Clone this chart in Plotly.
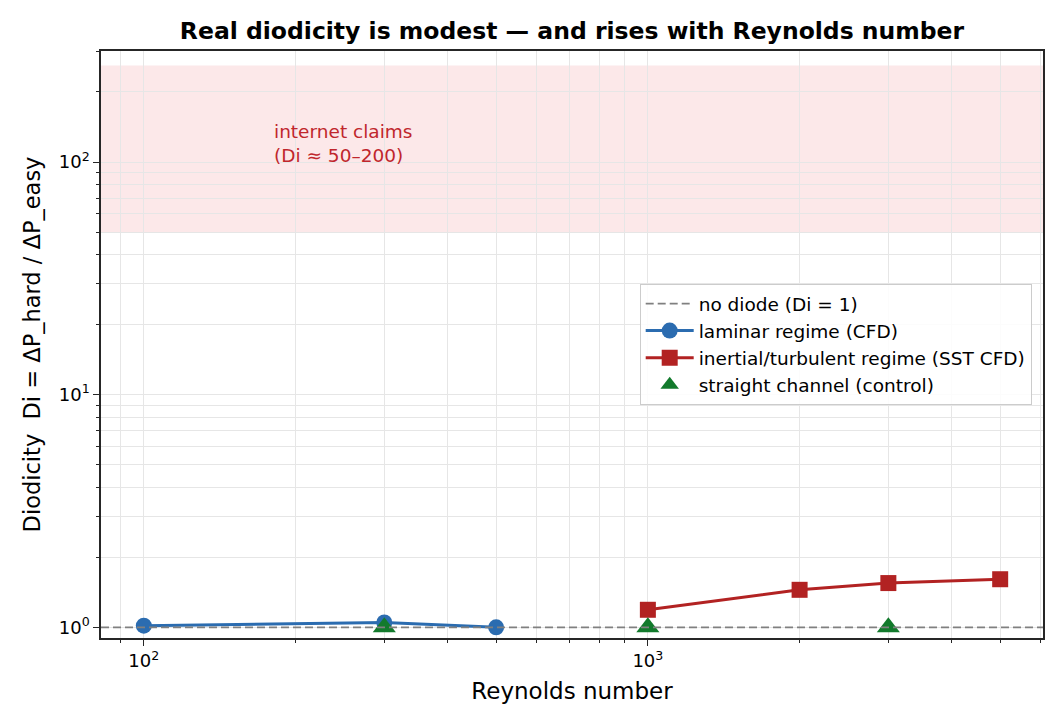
import math
import plotly.graph_objects as go

# ---- data ----
re_laminar = [100, 300, 500]
di_laminar = [1.017, 1.05, 1.00]

re_turb = [1000, 2000, 3000, 5000]
di_turb = [1.19, 1.45, 1.55, 1.61]

re_straight = [300, 1000, 3000]
di_straight = [1.0, 1.0, 1.0]

no_diode_level = 1.0
claims_low, claims_high = 50, 260
claims_label = "internet claims<br>(Di ≈ 50–200)"
claims_label_pos = (180, 100)

x_major = [100, 1000]
x_major_text = ["10<sup>2</sup>", "10<sup>3</sup>"]
x_minor = [90, 200, 300, 400, 500, 600, 700, 800, 900,
           2000, 3000, 4000, 5000, 6000]
y_major = [1, 10, 100]
y_major_text = ["10<sup>0</sup>", "10<sup>1</sup>", "10<sup>2</sup>"]
y_minor = [2, 3, 4, 5, 6, 7, 8, 9, 20, 30, 40, 50, 60, 70, 80, 90, 200, 300]
y_limits = (0.9, 300)

# ---- styles ----
BLUE = "#2b6cb0"
RED = "#b22222"
GREEN = "#127a2c"
AX = "#262626"
GRID = "#e6e6e6"
FONT = "DejaVu Sans"

# page body has an 8px margin; figure sized to fit the window
W, H, OFF = 1048, 712, 8

all_x = re_laminar + re_turb + re_straight
lo, hi = math.log10(min(all_x)), math.log10(max(all_x))
pad = 0.05 * (hi - lo)
x_range = [lo - pad, hi + pad]

fig = go.Figure()

fig.add_trace(go.Scatter(
    x=re_laminar, y=di_laminar, mode="lines+markers",
    name="laminar regime (CFD)", legendgroup="a", legendrank=2,
    line=dict(color=BLUE, width=3),
    marker=dict(symbol="circle", size=16, color=BLUE),
))
fig.add_trace(go.Scatter(
    x=re_turb, y=di_turb, mode="lines+markers",
    name="inertial/turbulent regime (SST CFD)", legendgroup="b", legendrank=3,
    line=dict(color=RED, width=3),
    marker=dict(symbol="square", size=16, color=RED),
))
fig.add_trace(go.Scatter(
    x=re_straight, y=di_straight, mode="markers",
    name="straight channel (control)", legendgroup="c", legendrank=4,
    marker=dict(symbol="triangle-up", size=20, color=GREEN),
))

# shaded band of internet claims
fig.add_shape(type="rect", xref="x domain", x0=0, x1=1, yref="y",
              y0=claims_low, y1=claims_high, fillcolor="rgba(230,30,40,0.10)",
              line=dict(width=0), layer="below")
# no-diode reference line
fig.add_shape(type="line", xref="x domain", x0=0, x1=1, yref="y",
              y0=no_diode_level, y1=no_diode_level,
              line=dict(color="#808080", width=1.7, dash="8px,4px"),
              layer="above", showlegend=True, name="no diode (Di = 1)",
              legendgroup="z", legendrank=1)

fig.add_annotation(
    x=math.log10(claims_label_pos[0]), y=math.log10(claims_label_pos[1]),
    xref="x", yref="y", text=claims_label, showarrow=False,
    xanchor="left", yanchor="bottom", align="left", yshift=-6,
    font=dict(family=FONT, size=18.5, color="#c0262c"),
)

axis_common = dict(
    type="log", showline=True, linecolor=AX, linewidth=1.5, mirror=True,
    ticks="outside", ticklen=6, tickwidth=1.3, tickcolor=AX,
    showgrid=True, gridcolor=GRID, gridwidth=1, zeroline=False,
    tickfont=dict(family=FONT, size=18, color="black"),
    tickmode="array",
)

fig.update_xaxes(
    **axis_common, range=x_range, tickvals=x_major, ticktext=x_major_text,
    minor=dict(tickmode="array", tickvals=x_minor, ticks="outside", ticklen=3.5,
               tickwidth=1, tickcolor=AX, showgrid=True, gridcolor=GRID, gridwidth=1),
    title=dict(text="Reynolds number", font=dict(family=FONT, size=23, color="black"),
               standoff=13),
)
fig.update_yaxes(
    **axis_common, range=[math.log10(y_limits[0]), math.log10(y_limits[1])],
    tickvals=y_major, ticktext=y_major_text,
    minor=dict(tickmode="array", tickvals=y_minor, ticks="outside", ticklen=3.5,
               tickwidth=1, tickcolor=AX, showgrid=True, gridcolor=GRID, gridwidth=1),
    title=dict(text="Diodicity\u00a0\u00a0Di = ΔP_hard / ΔP_easy",
               font=dict(family=FONT, size=22.5, color="black"), standoff=12),
)

fig.update_layout(
    width=W, height=H,
    margin=dict(l=101 - OFF, r=OFF + W - 1043, t=51 - OFF, b=OFF + H - 638,
                autoexpand=False),
    paper_bgcolor="white", plot_bgcolor="white",
    font=dict(family=FONT, color="black"),
    title=dict(text="<b>Real diodicity is modest — and rises with Reynolds number</b>",
               x=0.5, xref="paper", xanchor="center",
               y=1 - (31 - OFF) / H, yref="container", yanchor="middle",
               font=dict(family=FONT, size=23.5, color="black")),
    legend=dict(x=0.988, xanchor="right", y=0.5, yanchor="middle",
                bgcolor="rgba(255,255,255,0.85)", bordercolor="#cccccc", borderwidth=1,
                font=dict(family=FONT, size=18.5, color="black"),
                itemwidth=48, tracegroupgap=7, traceorder="normal"),
    showlegend=True,
)

fig.write_html("out.html")
